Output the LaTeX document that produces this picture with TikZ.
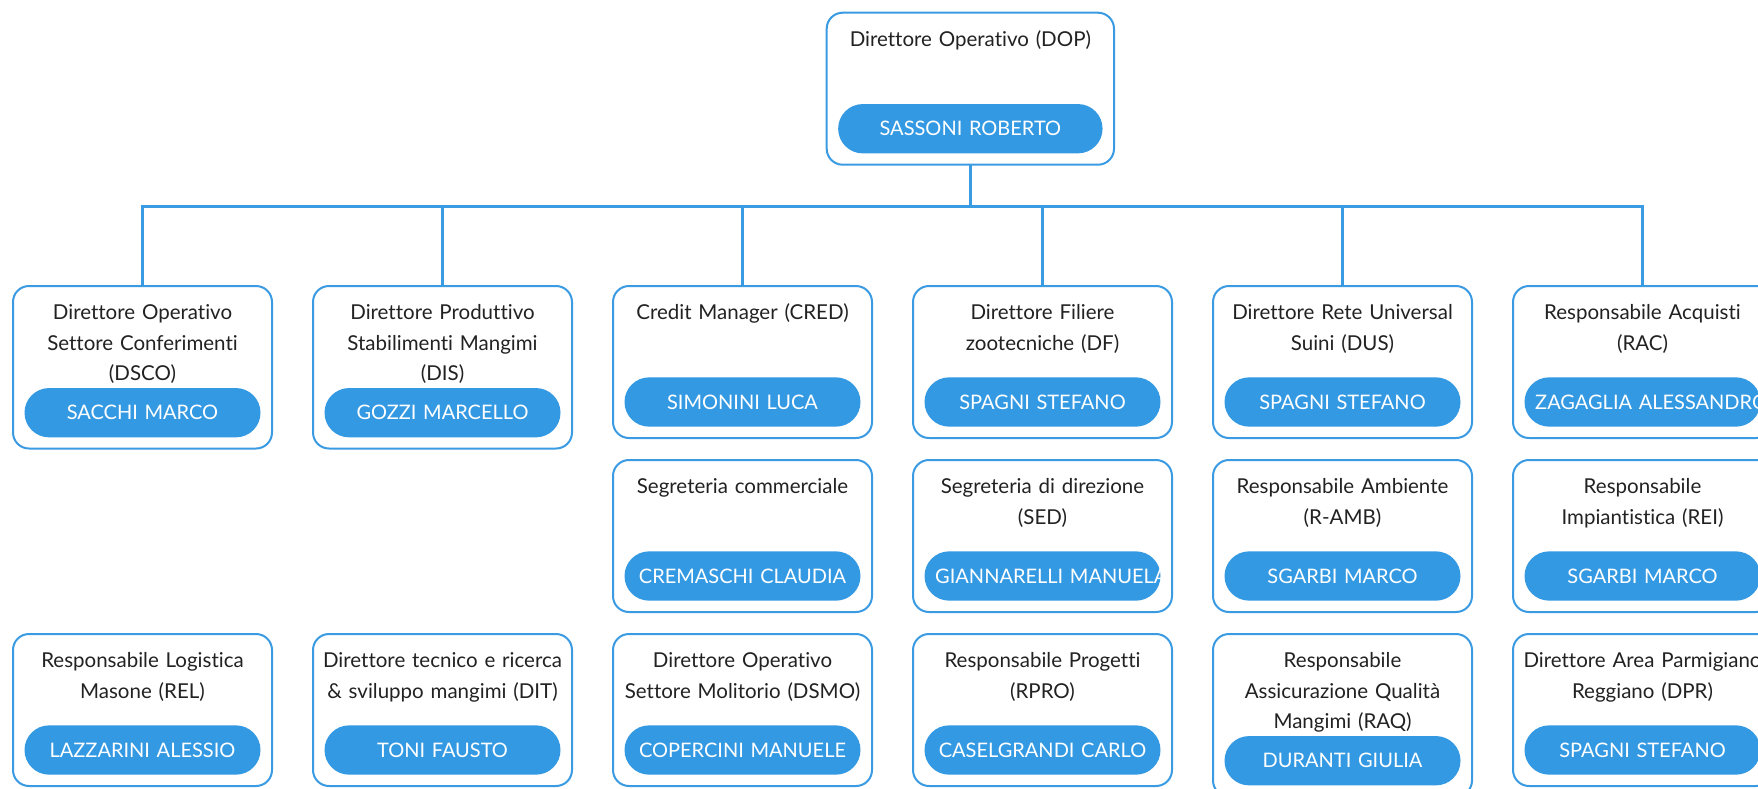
\documentclass[tikz,border=0pt]{standalone}
\usepackage{fontspec}
\setmainfont{Lato}[Ligatures=NoCommon]
\usetikzlibrary{calc}
\definecolor{lineblue}{RGB}{58,155,227}
\definecolor{pillblue}{RGB}{52,153,227}
\definecolor{txtdark}{RGB}{34,34,34}
\newcommand\ttlfont{\fontsize{20.5pt}{30.3pt}\selectfont}
\newcommand\pillfont{\fontsize{20pt}{24pt}\selectfont}
\tikzset{
  orgbox/.style={draw=lineblue, line width=2pt, rounded corners=16pt, fill=white,
    minimum width=259pt, minimum height=152pt, inner sep=0pt, outer sep=0pt, anchor=north west},
  tall/.style={minimum height=162.5pt},
  ttl/.style={anchor=north, inner sep=0pt, text width=300pt, align=center, font=\ttlfont, text=txtdark},
  pill/.style={fill=pillblue, rounded corners=24.6pt, minimum width=236pt, minimum height=49.3pt,
    inner sep=0pt, outer sep=0pt},
  ptxt/.style={text=white, font=\pillfont, inner sep=0pt, text width=214.6pt, align=center,
    text height=14.5pt, text depth=0pt},
  conn/.style={draw=lineblue, line width=3pt},
}
% #1 name, #2 x, #3 y, #4 box style, #5 pill offset, #6 title, #7 person
\newcommand\orgunit[7]{%
  \node[orgbox,#4] (#1) at (#2,#3) {};
  \node[ttl] (#1t) at ([yshift=-12.7pt]#1.north) {\rule{0pt}{21pt}#6};
  \node[pill, path picture={\node[ptxt] (#1n) at (path picture bounding box.center) {\mbox{#7}};}]
    (#1p) at ([yshift=-#5pt]#1.north) {};
}
\begin{document}
\begin{tikzpicture}[x=1pt,y=-1pt]
\useasboundingbox (0,0) rectangle (1758,788);
\clip (0,0) rectangle (1758,788);

% top box
\node[orgbox, minimum width=287.3pt] (dop) at (826.7,12.7) {};
\node[ttl] (dopt) at ([yshift=-12.7pt]dop.north) {\rule{0pt}{21pt}Direttore Operativo (DOP)};
\node[pill, minimum width=264.4pt, path picture={\node[ptxt] (dopn) at (path picture bounding box.center) {\mbox{SASSONI ROBERTO}};}]
  (dopp) at ([yshift=-116pt]dop.north) {};

% row 1
\orgunit{a1}{13}{286}{tall}{126.7}{Direttore Operativo\\Settore Conferimenti\\(DSCO)}{SACCHI MARCO}
\orgunit{a2}{313}{286}{tall}{126.7}{Direttore Produttivo\\Stabilimenti Mangimi\\(DIS)}{GOZZI MARCELLO}
\orgunit{a3}{613}{286}{}{116}{Credit Manager (CRED)}{SIMONINI LUCA}
\orgunit{a4}{913}{286}{}{116}{Direttore Filiere\\zootecniche (DF)}{SPAGNI STEFANO}
\orgunit{a5}{1213}{286}{}{116}{Direttore Rete Universal\\Suini (DUS)}{SPAGNI STEFANO}
\orgunit{a6}{1513}{286}{}{116}{Responsabile Acquisti\\(RAC)}{ZAGAGLIA ALESSANDRO}

% row 2
\orgunit{b3}{613}{460}{}{116}{Segreteria commerciale}{CREMASCHI CLAUDIA}
\orgunit{b4}{913}{460}{}{116}{Segreteria di direzione\\(SED)}{GIANNARELLI MANUELA}
\orgunit{b5}{1213}{460}{}{116}{Responsabile Ambiente\\(R-AMB)}{SGARBI MARCO}
\orgunit{b6}{1513}{460}{}{116}{Responsabile\\Impiantistica (REI)}{SGARBI MARCO}

% row 3
\orgunit{c1}{13}{634}{}{116}{Responsabile Logistica\\Masone (REL)}{LAZZARINI ALESSIO}
\orgunit{c2}{313}{634}{}{116}{Direttore tecnico e ricerca\\\& sviluppo mangimi (DIT)}{TONI FAUSTO}
\orgunit{c3}{613}{634}{}{116}{Direttore Operativo\\Settore Molitorio (DSMO)}{COPERCINI MANUELE}
\orgunit{c4}{913}{634}{}{116}{Responsabile Progetti\\(RPRO)}{CASELGRANDI CARLO}
\orgunit{c5}{1213}{634}{tall}{126.7}{Responsabile\\Assicurazione Qualità\\Mangimi (RAQ)}{DURANTI GIULIA}
\orgunit{c6}{1513}{634}{}{116}{Direttore Area Parmigiano\\Reggiano (DPR)}{SPAGNI STEFANO}

% connectors
\coordinate (bus) at (0,206.5);
\draw[conn] (dop.south) -- (dop.south |- bus);
\draw[conn] (a1.north) -- (a1.north |- bus) -- (a6.north |- bus) -- (a6.north);
\foreach \n in {a2,a3,a4,a5} {\draw[conn] (\n.north |- bus) -- (\n.north);}
\end{tikzpicture}
\end{document}
